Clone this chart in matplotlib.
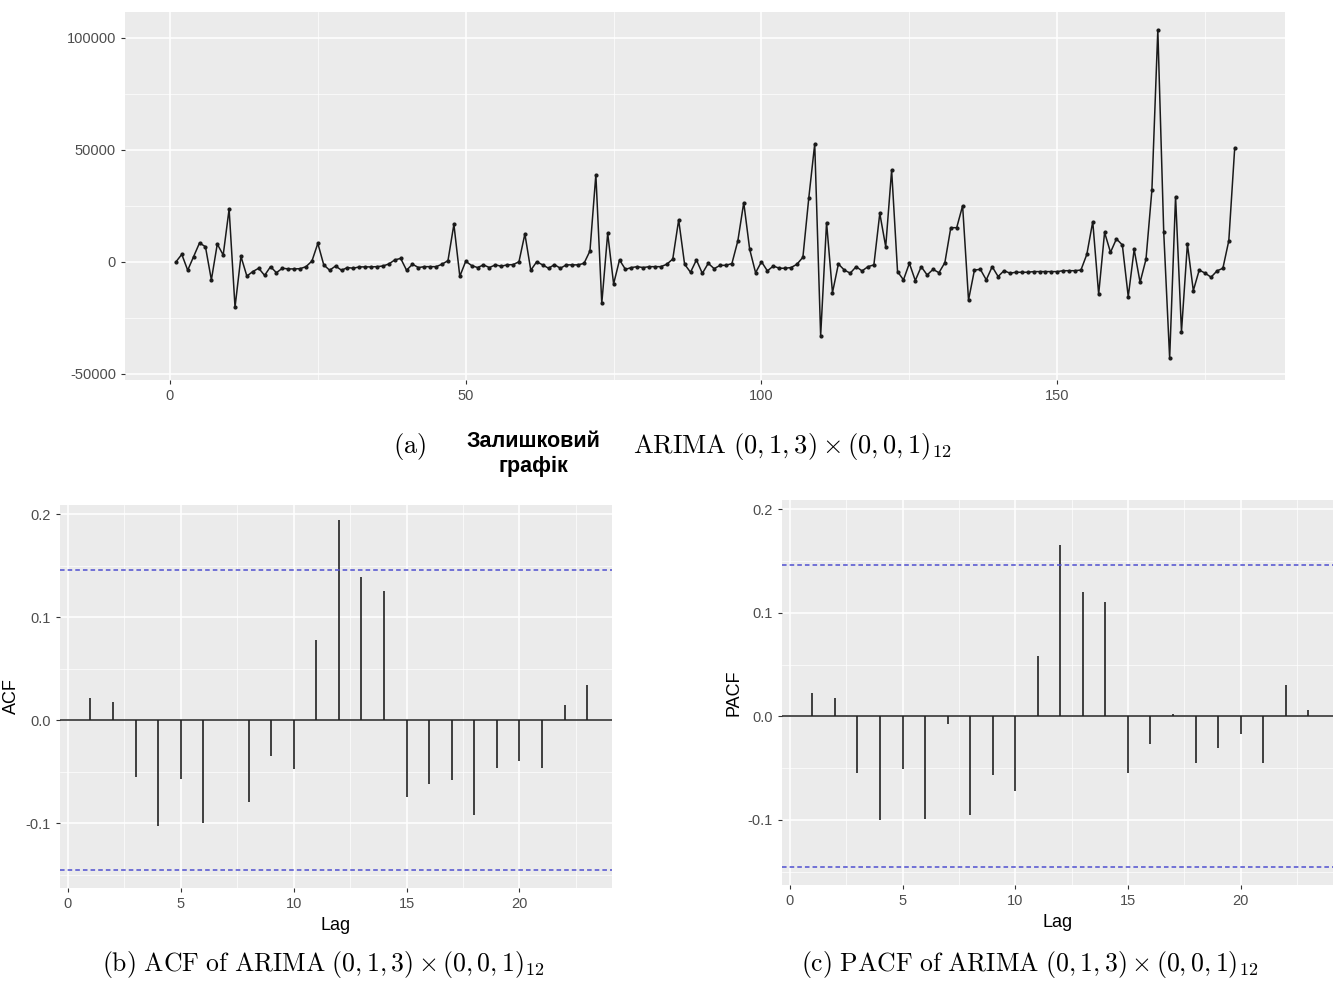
import numpy as np
import matplotlib.pyplot as plt
from matplotlib.ticker import MultipleLocator, FuncFormatter

plt.rcParams['font.family'] = ['Liberation Sans', 'DejaVu Sans']
plt.rcParams['mathtext.fontset'] = 'cm'
plt.rcParams['axes.unicode_minus'] = False

# residuals of the model, t = 1..180
resid = [
    0, 3400, -3700, 2400, 8500, 6800, -8000, 8000, 3100, 23600,
    -20200, 2500, -6300, -4300, -2800, -6000, -2100, -4800, -2800, -3100,
    -3100, -3000, -2100, 400, 8300, -1300, -3700, -1800, -3700, -2500,
    -2800, -2200, -2200, -2200, -2100, -1800, -900, 900, 1600, -3700,
    -1000, -2500, -2100, -2100, -2100, -1000, 600, 16800, -6400, 300,
    -1600, -2500, -1300, -2500, -1300, -1900, -1300, -1200, 100, 12500,
    -3700, 100, -1300, -2800, -1200, -2800, -1300, -1300, -1300, -600,
    4900, 39000, -18500, 12800, -9800, 900, -3300, -2500, -2100, -2500,
    -2100, -2100, -2100, -1000, 1300, 18800, -1000, -4600, 900, -5100,
    -600, -3000, -1500, -1500, -700, 9400, 26500, 5700, -4800, 100,
    -4000, -1800, -2800, -2800, -2500, -1000, 2100, 28700, 52700, -33000,
    17600, -13700, -900, -3600, -5000, -2100, -4000, -2100, -1300, 21700,
    6800, 41000, -4300, -8000, -600, -8300, -2100, -5800, -3300, -4800,
    -300, 15300, 15300, 25100, -17000, -3600, -3300, -8000, -2100, -6500,
    -3900, -5000, -4600, -4600, -4600, -4300, -4300, -4300, -4300, -4300,
    -3900, -3900, -3900, -3600, 3400, 18000, -14400, 13200, 4300, 10300,
    7600, -15500, 5600, -9100, 1200, 32100, 103600, 13200, -43000, 29200,
    -31100, 8000, -12800, -3600, -5000, -6800, -4000, -2800, 9500, 51000,
]
t = np.arange(1, len(resid) + 1)

lags = np.arange(1, 24)
acf = [0.022, 0.018, -0.055, -0.103, -0.057, -0.100, 0.0, -0.079, -0.035, -0.047,
       0.078, 0.194, 0.139, 0.125, -0.075, -0.062, -0.058, -0.092, -0.046, -0.040,
       -0.046, 0.015, 0.034]
pacf = [0.023, 0.018, -0.055, -0.100, -0.051, -0.099, -0.007, -0.095, -0.057, -0.072,
        0.058, 0.166, 0.120, 0.110, -0.055, -0.027, 0.002, -0.045, -0.031, -0.017,
        -0.045, 0.030, 0.006]
ci = 0.146

W, H = 1339, 981
fig = plt.figure(figsize=(W / 100, H / 100), dpi=100)


def px_axes(left, top, right, bottom):
    return fig.add_axes([left / W, 1 - bottom / H, (right - left) / W, (bottom - top) / H])


def gg_style(ax):
    ax.set_facecolor('#EBEBEB')
    for s in ax.spines.values():
        s.set_visible(False)
    ax.grid(which='major', color='white', lw=1.1)
    ax.grid(which='minor', color='white', lw=0.5)
    ax.set_axisbelow(True)
    ax.tick_params(which='major', length=3, color='#333333', labelcolor='#4D4D4D',
                   labelsize=10.5, width=0.8)
    ax.tick_params(which='minor', length=0)


# (a) residual plot
ax = px_axes(125, 12, 1285, 380)
gg_style(ax)
ax.plot(t, resid, color='#1a1a1a', lw=1.1, marker='o', ms=2)
ax.set_xlim(-7.6, 188.5)
ax.set_ylim(-52700, 111600)
ax.xaxis.set_major_locator(MultipleLocator(50))
ax.xaxis.set_minor_locator(MultipleLocator(25))
ax.yaxis.set_major_locator(MultipleLocator(50000))
ax.yaxis.set_minor_locator(MultipleLocator(25000))
ax.yaxis.set_major_formatter(FuncFormatter(lambda v, p: '%d' % v))

fig.text(410 / W, 1 - 447 / H, r'$\mathrm{(a)}$', ha='center', va='center', fontsize=19)
fig.text(533 / W, 1 - 454 / H, 'Залишковий\nграфік', ha='center', va='center',
         fontsize=15.5, fontweight='bold', linespacing=1.3)
fig.text(633 / W, 1 - 447 / H, r'$\mathrm{ARIMA}\ (0,1,3)\times(0,0,1)_{12}$',
         ha='left', va='center', fontsize=19)


def corr_panel(box, vals, label, caption, cap_x):
    ax = px_axes(*box)
    gg_style(ax)
    ax.vlines(lags, 0, vals, color='#222222', lw=1.2)
    ax.axhline(0, color='#222222', lw=1.1)
    for c in (ci, -ci):
        ax.axhline(c, color='#4F4FD0', lw=1.1, ls=(0, (3, 2)))
    ax.set_xlim(-0.35, 24.1)
    ax.set_ylim(-0.163, 0.209)
    ax.xaxis.set_major_locator(MultipleLocator(5))
    ax.xaxis.set_minor_locator(MultipleLocator(2.5))
    ax.yaxis.set_major_locator(MultipleLocator(0.1))
    ax.yaxis.set_minor_locator(MultipleLocator(0.05))
    ax.yaxis.set_major_formatter(FuncFormatter(lambda v, p: '%.1f' % v))
    ax.set_xlabel('Lag', fontsize=13, color='black')
    ax.set_ylabel(label, fontsize=13, color='black')
    fig.text(cap_x / W, 1 - 965 / H, caption, ha='center', va='center', fontsize=18.5)


corr_panel((60, 505, 612, 888), acf, 'ACF',
           r'$\mathrm{(b)\ ACF\ of\ ARIMA}\ (0,1,3)\times(0,0,1)_{12}$', 323)
corr_panel((782, 500, 1333, 885), pacf, 'PACF',
           r'$\mathrm{(c)\ PACF\ of\ ARIMA}\ (0,1,3)\times(0,0,1)_{12}$', 1030)

fig.savefig('out.png', dpi=100, facecolor='white')
